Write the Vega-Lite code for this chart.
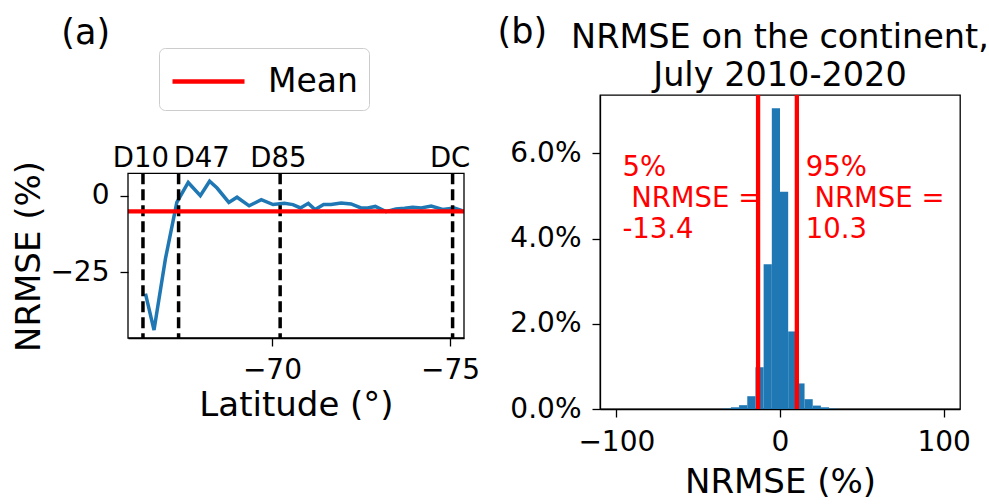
{
  "$schema": "https://vega.github.io/schema/vega-lite/v6.json",
  "background": "white",
  "padding": {"left": 12, "top": 14, "right": 0, "bottom": 0},
  "config": {
    "font": "DejaVu Sans",
    "view": {"stroke": "black", "strokeWidth": 1.3},
    "axis": {
      "grid": false,
      "domainColor": "black",
      "domainWidth": 1.3,
      "tickColor": "black",
      "tickWidth": 1.3,
      "tickSize": 8,
      "labelFont": "DejaVu Sans",
      "labelFontSize": 28,
      "labelColor": "black",
      "labelPadding": 10,
      "titleFont": "DejaVu Sans",
      "titleFontSize": 34,
      "titleFontWeight": "normal",
      "titleColor": "black"
    },
    "text": {"font": "DejaVu Sans"}
  },
  "datasets": {
    "profile": [
      {"lat": -66.45, "nrmse": -31.9},
      {"lat": -66.69, "nrmse": -43.8},
      {"lat": -67.01, "nrmse": -20.6},
      {"lat": -67.33, "nrmse": -2.2},
      {"lat": -67.65, "nrmse": 4.3},
      {"lat": -67.99, "nrmse": 0.0},
      {"lat": -68.25, "nrmse": 4.7},
      {"lat": -68.46, "nrmse": 2.5},
      {"lat": -68.79, "nrmse": -2.2},
      {"lat": -69.02, "nrmse": -0.5},
      {"lat": -69.36, "nrmse": -3.3},
      {"lat": -69.70, "nrmse": -1.3},
      {"lat": -70.03, "nrmse": -2.9},
      {"lat": -70.35, "nrmse": -2.5},
      {"lat": -70.59, "nrmse": -2.9},
      {"lat": -70.80, "nrmse": -4.0},
      {"lat": -71.02, "nrmse": -2.5},
      {"lat": -71.21, "nrmse": -4.5},
      {"lat": -71.45, "nrmse": -2.9},
      {"lat": -71.66, "nrmse": -2.9},
      {"lat": -71.94, "nrmse": -2.4},
      {"lat": -72.22, "nrmse": -2.7},
      {"lat": -72.50, "nrmse": -4.0},
      {"lat": -72.69, "nrmse": -4.0},
      {"lat": -72.90, "nrmse": -3.5},
      {"lat": -73.20, "nrmse": -5.2},
      {"lat": -73.48, "nrmse": -4.3},
      {"lat": -73.72, "nrmse": -4.1},
      {"lat": -73.95, "nrmse": -3.8},
      {"lat": -74.19, "nrmse": -4.0},
      {"lat": -74.47, "nrmse": -3.4},
      {"lat": -74.79, "nrmse": -4.5},
      {"lat": -75.12, "nrmse": -4.0},
      {"lat": -75.34, "nrmse": -4.9}
    ],
    "stations": [
      {"site": "D10", "lat": -66.38, "label_lat": -66.32},
      {"site": "D47", "lat": -67.38, "label_lat": -68.03},
      {"site": "D85", "lat": -70.23, "label_lat": -70.18},
      {"site": "DC", "lat": -75.07, "label_lat": -75.0}
    ],
    "mean": [{"series": "Mean", "nrmse": -5.1}],
    "hist": [
      {"bin_start": -35, "bin_end": -30, "density": 0.0001},
      {"bin_start": -30, "bin_end": -25, "density": 0.0004},
      {"bin_start": -25, "bin_end": -20, "density": 0.0009},
      {"bin_start": -20, "bin_end": -15, "density": 0.0030},
      {"bin_start": -15, "bin_end": -10, "density": 0.0098},
      {"bin_start": -10, "bin_end": -5, "density": 0.0340},
      {"bin_start": -5, "bin_end": 0, "density": 0.0706},
      {"bin_start": 0, "bin_end": 5, "density": 0.0510},
      {"bin_start": 5, "bin_end": 10, "density": 0.0182},
      {"bin_start": 10, "bin_end": 15, "density": 0.0060},
      {"bin_start": 15, "bin_end": 20, "density": 0.0023},
      {"bin_start": 20, "bin_end": 25, "density": 0.0008},
      {"bin_start": 25, "bin_end": 30, "density": 0.0004},
      {"bin_start": 30, "bin_end": 35, "density": 0.0001}
    ],
    "percentiles": [
      {"pct": "5%", "value": -13.4},
      {"pct": "95%", "value": 10.3}
    ],
    "notes": [
      {"label": "5%\n\u200b NRMSE =\n-13.4", "x": -96.3, "y": 0.0546},
      {"label": "95%\n\u200b NRMSE =\n10.3", "x": 15.7, "y": 0.0546}
    ],
    "panelA": [{"label": "(a)", "x": -64.09, "y": 49.6}],
    "panelB": [{"label": "(b)", "x": -172.6, "y": 0.0859}]
  },
  "spacing": 16,
  "hconcat": [
    {
      "width": 336,
      "height": 243,
      "view": {"stroke": null},
      "layer": [
        {
          "data": {"name": "profile"},
          "mark": {"type": "line", "color": "#1f77b4", "strokeWidth": 3.5},
          "encoding": {
            "x": {
              "field": "lat", "type": "quantitative",
              "scale": {"domain": [-75.39, -65.96], "reverse": true, "nice": false, "zero": false},
              "axis": {"values": [-70, -75], "title": "Latitude (°)", "labelExpr": "replace(format(datum.value, 'd'), '-', '−')", "titlePadding": 4}
            },
            "y": {
              "field": "nrmse", "type": "quantitative",
              "scale": {"domain": [-46.4, 32.83], "nice": false, "zero": false},
              "axis": {"values": [0, -25], "title": "NRMSE (%)", "domain": false, "labelPadding": 11, "titleY": 161, "titlePadding": 3, "labelExpr": "replace(format(datum.value, 'd'), '-', '−')"}
            }
          }
        },
        {
          "data": {"name": "stations"},
          "mark": {"type": "rule", "color": "black", "strokeWidth": 3.5, "strokeDash": [11, 5]},
          "encoding": {
            "x": {"field": "lat", "type": "quantitative", "scale": {"domain": [-75.39, -65.96], "reverse": true, "nice": false, "zero": false}},
            "y": {"datum": 7.3, "type": "quantitative", "scale": {"domain": [-46.4, 32.83], "nice": false, "zero": false}},
            "y2": {"datum": -46.4}
          }
        },
        {
          "data": {"name": "stations"},
          "mark": {"type": "text", "fontSize": 27.5, "align": "center", "baseline": "alphabetic", "color": "black"},
          "encoding": {
            "x": {"field": "label_lat", "type": "quantitative", "scale": {"domain": [-75.39, -65.96], "reverse": true, "nice": false, "zero": false}},
            "y": {"datum": 9.5, "type": "quantitative", "scale": {"domain": [-46.4, 32.83], "nice": false, "zero": false}},
            "text": {"field": "site"}
          }
        },
        {
          "data": {"name": "mean"},
          "mark": {"type": "rule", "strokeWidth": 4.3},
          "encoding": {
            "y": {"field": "nrmse", "type": "quantitative", "scale": {"domain": [-46.4, 32.83], "nice": false, "zero": false}},
            "color": {
              "field": "series", "type": "nominal",
              "scale": {"range": ["#ff0000"]},
              "legend": {
                "orient": "none", "legendX": 31, "legendY": -47,
                "title": null,
                "symbolType": "M-1,0H2.6", "symbolSize": 1600, "symbolStrokeWidth": 4.3,
                "labelFontSize": 33, "labelFont": "DejaVu Sans", "labelColor": "black", "labelOffset": 53,
                "strokeColor": "#cccccc", "fillColor": "white", "cornerRadius": 6, "padding": 11
              }
            }
          }
        },
        {
          "data": {"name": "panelA"},
          "mark": {"type": "text", "fontSize": 35, "align": "left", "baseline": "alphabetic", "color": "black"},
          "encoding": {
            "x": {"field": "x", "type": "quantitative", "scale": {"domain": [-75.39, -65.96], "reverse": true, "nice": false, "zero": false}},
            "y": {"field": "y", "type": "quantitative", "scale": {"domain": [-46.4, 32.83], "nice": false, "zero": false}},
            "text": {"field": "label"}
          }
        },
        {
          "data": {"name": "panelA"},
          "mark": {"type": "rect", "filled": false, "stroke": "black", "strokeWidth": 1.3},
          "encoding": {
            "x": {"datum": -65.96, "type": "quantitative", "scale": {"domain": [-75.39, -65.96], "reverse": true, "nice": false, "zero": false}},
            "x2": {"datum": -75.39},
            "y": {"datum": 7.3, "type": "quantitative", "scale": {"domain": [-46.4, 32.83], "nice": false, "zero": false}},
            "y2": {"datum": -46.4}
          }
        }
      ]
    },
    {
      "width": 360,
      "height": 314,
      "title": {
        "text": ["NRMSE on the continent,", "July 2010-2020"],
        "frame": "group",
        "anchor": "middle",
        "fontSize": 33.5,
        "font": "DejaVu Sans",
        "fontWeight": "normal",
        "color": "black",
        "lineHeight": 38,
        "offset": -78
      },
      "layer": [
        {
          "data": {"name": "hist"},
          "mark": {"type": "rect", "color": "#1f77b4"},
          "encoding": {
            "x": {
              "field": "bin_start", "type": "quantitative",
              "scale": {"domain": [-110, 110], "nice": false, "zero": false},
              "axis": {"values": [-100, 0, 100], "title": "NRMSE (%)", "labelPadding": 11, "titlePadding": 9, "labelExpr": "replace(format(datum.value, 'd'), '-', '−')"}
            },
            "x2": {"field": "bin_end"},
            "y": {
              "field": "density", "type": "quantitative",
              "scale": {"domain": [0, 0.0737], "nice": false, "zero": false},
              "axis": {"values": [0, 0.02, 0.04, 0.06], "format": ".1%", "title": null, "labelPadding": 11}
            }
          }
        },
        {
          "data": {"name": "percentiles"},
          "mark": {"type": "rule", "color": "#ff0000", "strokeWidth": 4.3},
          "encoding": {
            "x": {"field": "value", "type": "quantitative", "scale": {"domain": [-110, 110], "nice": false, "zero": false}}
          }
        },
        {
          "data": {"name": "notes"},
          "mark": {"type": "text", "fontSize": 27.5, "align": "left", "baseline": "alphabetic", "color": "#ff0000", "lineBreak": "\n", "lineHeight": 31},
          "encoding": {
            "x": {"field": "x", "type": "quantitative", "scale": {"domain": [-110, 110], "nice": false, "zero": false}},
            "y": {"field": "y", "type": "quantitative", "scale": {"domain": [0, 0.0737], "nice": false, "zero": false}},
            "text": {"field": "label"}
          }
        },
        {
          "data": {"name": "panelB"},
          "mark": {"type": "text", "fontSize": 35, "align": "left", "baseline": "alphabetic", "color": "black"},
          "encoding": {
            "x": {"field": "x", "type": "quantitative", "scale": {"domain": [-110, 110], "nice": false, "zero": false}},
            "y": {"field": "y", "type": "quantitative", "scale": {"domain": [0, 0.0737], "nice": false, "zero": false}},
            "text": {"field": "label"}
          }
        }
      ]
    }
  ]
}
